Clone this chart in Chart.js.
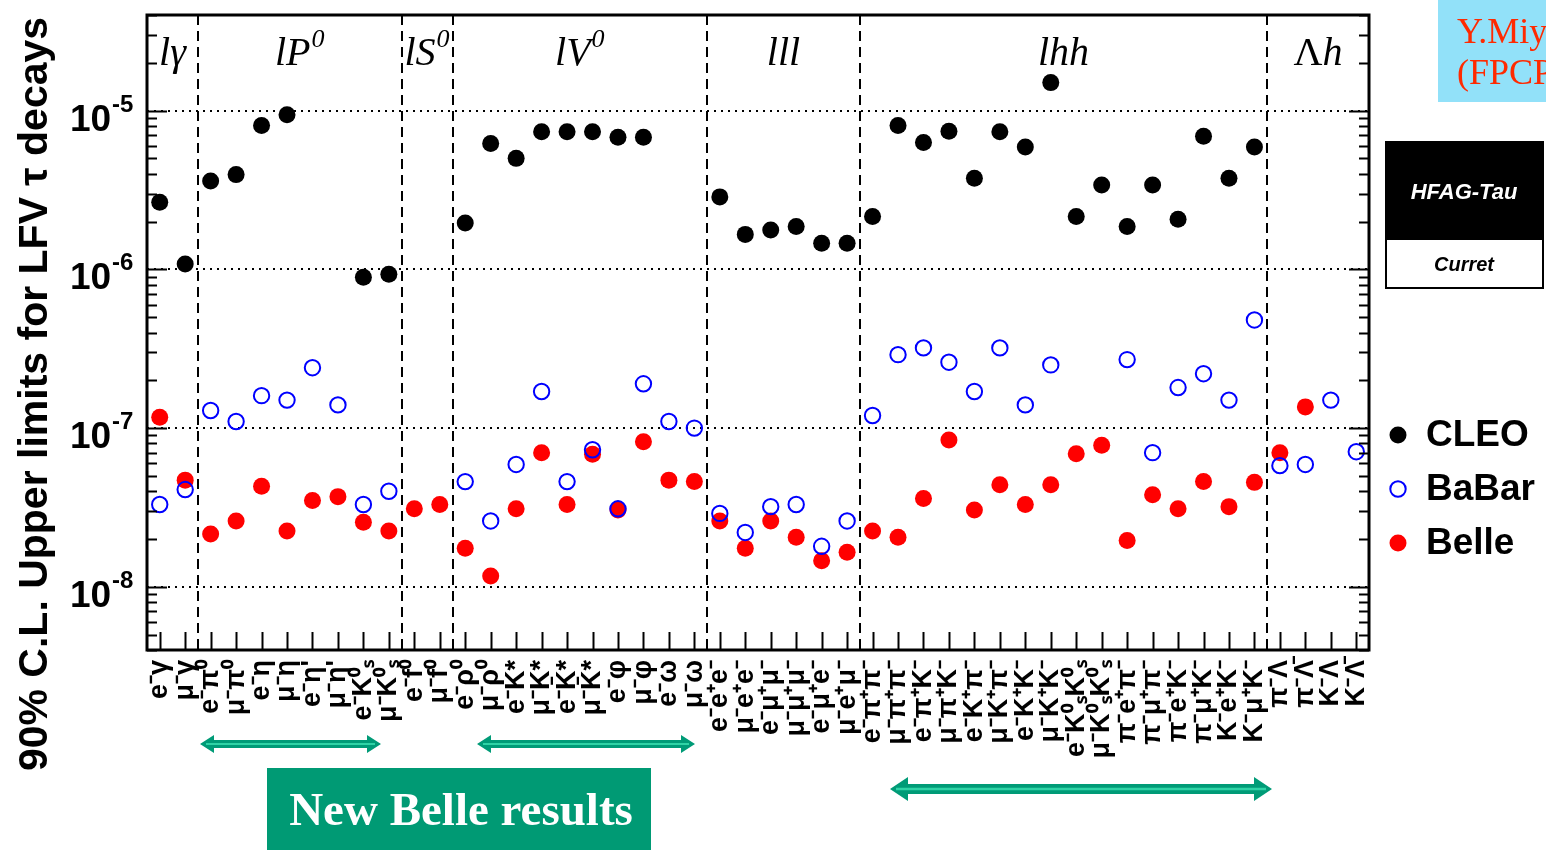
<!DOCTYPE html>
<html>
<head>
<meta charset="utf-8">
<script src="https://cdn.jsdelivr.net/npm/chart.js@4.4.1/dist/chart.umd.min.js"></script>
<style>
  html, body { margin: 0; padding: 0; background: #fff; }
</style>
</head>
<body>
<canvas id="lfv" width="1546" height="850"></canvas>
<script>
// decay modes (x categories), read bottom-to-top on the plot
const modes = [
  "e⁻γ", "μ⁻γ",
  "e⁻π⁰", "μ⁻π⁰", "e⁻η", "μ⁻η", "e⁻η'", "μ⁻η'", "e⁻K⁰ₛ", "μ⁻K⁰ₛ",
  "e⁻f⁰", "μ⁻f⁰",
  "e⁻ρ⁰", "μ⁻ρ⁰", "e⁻K*", "μ⁻K*", "e⁻K̄*", "μ⁻K̄*", "e⁻φ", "μ⁻φ", "e⁻ω", "μ⁻ω",
  "e⁻e⁺e⁻", "μ⁻e⁺e⁻", "e⁻μ⁺μ⁻", "μ⁻μ⁺μ⁻", "e⁻μ⁺e⁻", "μ⁻e⁺μ⁻",
  "e⁻π⁺π⁻", "μ⁻π⁺π⁻", "e⁻π⁺K⁻", "μ⁻π⁺K⁻", "e⁻K⁺π⁻", "μ⁻K⁺π⁻", "e⁻K⁺K⁻", "μ⁻K⁺K⁻",
  "e⁻K⁰ₛK⁰ₛ", "μ⁻K⁰ₛK⁰ₛ", "π⁻e⁺π⁻", "π⁻μ⁺π⁻", "π⁻e⁺K⁻", "π⁻μ⁺K⁻", "K⁻e⁺K⁻", "K⁻μ⁺K⁻",
  "π⁻Λ", "π⁻Λ̄", "K⁻Λ", "K⁻Λ̄"
]

const cleo = [
  2.65e-6, 1.08e-6,
  3.6e-6, 3.95e-6, 8.05e-6, 9.4e-6, null, null, 8.9e-7, 9.3e-7,
  null, null,
  1.96e-6, 6.2e-6, 5.0e-6, 7.35e-6, 7.35e-6, 7.35e-6, 6.8e-6, 6.8e-6, null, null,
  2.86e-6, 1.66e-6, 1.77e-6, 1.86e-6, 1.46e-6, 1.46e-6,
  2.15e-6, 8.05e-6, 6.3e-6, 7.4e-6, 3.75e-6, 7.35e-6, 5.9e-6, 1.5e-5,
  2.15e-6, 3.4e-6, 1.86e-6, 3.4e-6, 2.07e-6, 6.9e-6, 3.75e-6, 5.9e-6,
  null, null, null, null
]

const babar = [
  3.3e-8, 4.1e-8,
  1.29e-7, 1.1e-7, 1.6e-7, 1.5e-7, 2.4e-7, 1.4e-7, 3.3e-8, 4.0e-8,
  null, null,
  4.6e-8, 2.6e-8, 5.9e-8, 1.7e-7, 4.6e-8, 7.3e-8, 3.1e-8, 1.9e-7, 1.1e-7, 1.0e-7,
  2.9e-8, 2.2e-8, 3.2e-8, 3.3e-8, 1.8e-8, 2.6e-8,
  1.2e-7, 2.9e-7, 3.2e-7, 2.6e-7, 1.7e-7, 3.2e-7, 1.4e-7, 2.5e-7,
  null, null, 2.7e-7, 7.0e-8, 1.8e-7, 2.2e-7, 1.5e-7, 4.8e-7,
  5.8e-8, 5.9e-8, 1.5e-7, 7.1e-8
]

const belle = [
  1.17e-7, 4.7e-8,
  2.15e-8, 2.6e-8, 4.3e-8, 2.25e-8, 3.5e-8, 3.7e-8, 2.55e-8, 2.25e-8,
  3.1e-8, 3.3e-8,
  1.75e-8, 1.17e-8, 3.1e-8, 7.0e-8, 3.3e-8, 6.85e-8, 3.05e-8, 8.2e-8, 4.7e-8, 4.6e-8,
  2.6e-8, 1.75e-8, 2.6e-8, 2.05e-8, 1.46e-8, 1.65e-8,
  2.25e-8, 2.05e-8, 3.6e-8, 8.4e-8, 3.05e-8, 4.4e-8, 3.3e-8, 4.4e-8,
  6.9e-8, 7.8e-8, 1.96e-8, 3.8e-8, 3.1e-8, 4.6e-8, 3.2e-8, 4.55e-8,
  7.0e-8, 1.36e-7, null, null
]

// group headings: upright lead (Λ), italic body, superscript
const groupLeads = ["", "", "", "", "", "", "Λ"]
const groupNames = ["lγ", "lP", "lS", "lV", "lll", "lhh", "h"]
const groupSups = ["", "0", "0", "0", "", "", ""]
const groupStarts = [0, 2, 10, 12, 22, 28, 44]

const yTickValues = [1e-8, 1e-7, 1e-6, 1e-5]
const yTickExponents = ["-8", "-7", "-6", "-5"]
const yTitle = "90% C.L. Upper limits for LFV τ decays"

const SANS = "'Liberation Sans', Arial, Helvetica, sans-serif"
const SERIF = "'Liberation Serif', 'Times New Roman', serif"

function drawArrow(ctx, x1, x2, yc, t, hl, hw) {
  ctx.beginPath()
  ctx.moveTo(x1, yc)
  ctx.lineTo(x1 + hl, yc - hw)
  ctx.lineTo(x1 + hl, yc - t)
  ctx.lineTo(x2 - hl, yc - t)
  ctx.lineTo(x2 - hl, yc - hw)
  ctx.lineTo(x2, yc)
  ctx.lineTo(x2 - hl, yc + hw)
  ctx.lineTo(x2 - hl, yc + t)
  ctx.lineTo(x1 + hl, yc + t)
  ctx.lineTo(x1 + hl, yc + hw)
  ctx.closePath()
  ctx.fillStyle = "#009b77"
  ctx.fill()
  ctx.strokeStyle = "#2fd3a6"
  ctx.lineWidth = Math.max(1.5, t * 0.5)
  ctx.beginPath()
  ctx.moveTo(x1 + 6, yc)
  ctx.lineTo(x2 - 6, yc)
  ctx.stroke()
}

const decor = {
  id: "decor",
  beforeDraw(chart) {
    const ctx = chart.ctx
    ctx.save()
    ctx.fillStyle = "#fff"
    ctx.fillRect(0, 0, chart.width, chart.height)
    ctx.restore()
  },
  beforeDatasetsDraw(chart) {
    const { ctx, chartArea: a, scales: { x } } = chart
    ctx.save()
    ctx.strokeStyle = "#000"
    ctx.lineWidth = 2
    ctx.setLineDash([10, 6])
    groupStarts.slice(1).forEach(s => {
      const px = Math.round(x.getPixelForValue(s - 0.5))
      ctx.beginPath()
      ctx.moveTo(px, a.top)
      ctx.lineTo(px, a.bottom)
      ctx.stroke()
    })
    ctx.restore()
  },
  afterDraw(chart) {
    const { ctx, chartArea: a, scales: { x, y } } = chart
    ctx.save()

    // frame
    ctx.strokeStyle = "#000"
    ctx.lineWidth = 3
    ctx.strokeRect(a.left, a.top, a.right - a.left, a.bottom - a.top)

    // log ticks on left and right edges, pointing inward
    ctx.lineWidth = 2
    for (let d = -9; d <= -5; d++) {
      for (let m = 1; m <= 9; m++) {
        const v = m * Math.pow(10, d)
        if (v < y.min || v > y.max) continue
        const py = Math.round(y.getPixelForValue(v)) + 0.5
        const len = m === 1 ? 20 : 10
        ctx.beginPath()
        ctx.moveTo(a.left, py); ctx.lineTo(a.left + len, py)
        ctx.moveTo(a.right, py); ctx.lineTo(a.right - len, py)
        ctx.stroke()
      }
    }

    // category ticks on the bottom edge
    modes.forEach((_, i) => {
      const px = Math.round(x.getPixelForValue(i)) + 0.5
      ctx.beginPath()
      ctx.moveTo(px, a.bottom)
      ctx.lineTo(px, a.bottom - 18)
      ctx.stroke()
    })

    // y tick labels 10^n
    ctx.fillStyle = "#000"
    ctx.textAlign = "left"
    ctx.textBaseline = "alphabetic"
    yTickValues.forEach((v, i) => {
      const py = y.getPixelForValue(v)
      ctx.font = `bold 37px ${SANS}`
      ctx.fillText("10", 70, py + 20)
      ctx.font = `bold 24px ${SANS}`
      ctx.fillText(yTickExponents[i], 112, py + 1)
    })

    // y title
    ctx.save()
    ctx.translate(36, 394)
    ctx.rotate(-Math.PI / 2)
    ctx.textAlign = "center"
    ctx.textBaseline = "middle"
    ctx.font = `bold 41px ${SANS}`
    ctx.fillText(yTitle, 0, 0)
    ctx.restore()

    // group names
    groupNames.forEach((name, i) => {
      const s = groupStarts[i]
      const e = (i + 1 < groupStarts.length ? groupStarts[i + 1] : modes.length) - 1
      const cx = (x.getPixelForValue(s - 0.5) + x.getPixelForValue(e + 0.5)) / 2
      ctx.font = `40px ${SERIF}`
      const w0 = groupLeads[i] ? ctx.measureText(groupLeads[i]).width : 0
      ctx.font = `italic 40px ${SERIF}`
      const w1 = ctx.measureText(name).width
      ctx.font = `italic 26px ${SERIF}`
      const w2 = groupSups[i] ? ctx.measureText(groupSups[i]).width + 1 : 0
      const x0 = cx - (w0 + w1 + w2) / 2
      if (groupLeads[i]) {
        ctx.font = `40px ${SERIF}`
        ctx.fillText(groupLeads[i], x0, 65)
      }
      ctx.font = `italic 40px ${SERIF}`
      ctx.fillText(name, x0 + w0, 65)
      if (groupSups[i]) {
        ctx.font = `italic 26px ${SERIF}`
        ctx.fillText(groupSups[i], x0 + w0 + w1 + 1, 47)
      }
    })

    // legend
    const legendY = [435, 489, 543]
    chart.data.datasets.forEach((ds, i) => {
      const cy = legendY[i]
      ctx.beginPath()
      ctx.arc(1398, cy, ds.pointRadius, 0, Math.PI * 2)
      if (ds.pointBorderWidth > 0) {
        ctx.lineWidth = ds.pointBorderWidth
        ctx.strokeStyle = ds.pointBorderColor
        ctx.stroke()
      } else {
        ctx.fillStyle = ds.pointBackgroundColor
        ctx.fill()
      }
      ctx.fillStyle = "#000"
      ctx.font = `bold 37px ${SANS}`
      ctx.textBaseline = "middle"
      ctx.fillText(ds.label, 1426, cy + 1)
    })

    // HFAG box
    ctx.textBaseline = "middle"
    ctx.textAlign = "center"
    ctx.fillStyle = "#000"
    ctx.fillRect(1386, 142, 157, 98)
    ctx.fillStyle = "#fff"
    ctx.fillRect(1386, 240, 157, 48)
    ctx.strokeStyle = "#000"
    ctx.lineWidth = 2
    ctx.strokeRect(1386, 142, 157, 146)
    ctx.font = `italic bold 22px ${SANS}`
    ctx.fillText("HFAG-Tau", 1464, 193)
    ctx.fillStyle = "#000"
    ctx.font = `italic bold 20px ${SANS}`
    ctx.fillText("Curret", 1464, 265)

    // speaker tag, clipped by the page edge
    ctx.fillStyle = "#92e1f9"
    ctx.fillRect(1438, 0, 108, 102)
    ctx.fillStyle = "#ff2a00"
    ctx.textAlign = "left"
    ctx.textBaseline = "alphabetic"
    ctx.font = `36px ${SERIF}`
    ctx.fillText("Y.Miyazaki", 1457, 43)
    ctx.fillText("(FPCP2010)", 1457, 84)

    // new Belle results markers
    drawArrow(ctx, 200, 381, 744, 4, 14, 9)
    drawArrow(ctx, 477, 695, 744, 4, 14, 9)
    drawArrow(ctx, 890, 1272, 789, 5, 18, 12)
    ctx.fillStyle = "#009a74"
    ctx.fillRect(267, 768, 384, 82)
    ctx.fillStyle = "#fff"
    ctx.textAlign = "center"
    ctx.textBaseline = "middle"
    ctx.font = `bold 47px ${SERIF}`
    ctx.fillText("New Belle results", 461, 813)

    ctx.restore()
  }
}

new Chart(document.getElementById("lfv"), {
  type: "line",
  data: {
    labels: modes,
    datasets: [
      {
        label: "CLEO",
        data: cleo,
        showLine: false,
        pointRadius: 8.5,
        pointBackgroundColor: "#000000",
        pointBorderColor: "#000000",
        pointBorderWidth: 0
      },
      {
        label: "BaBar",
        data: babar,
        showLine: false,
        pointRadius: 7.7,
        pointBackgroundColor: "rgba(0,0,0,0)",
        pointBorderColor: "#0000ff",
        pointBorderWidth: 2
      },
      {
        label: "Belle",
        data: belle,
        showLine: false,
        pointRadius: 8.5,
        pointBackgroundColor: "#ff0000",
        pointBorderColor: "#ff0000",
        pointBorderWidth: 0
      }
    ]
  },
  options: {
    animation: false,
    responsive: false,
    devicePixelRatio: 1,
    layout: { padding: { left: 0, top: 15, right: 177, bottom: 0 } },
    plugins: {
      legend: { display: false },
      tooltip: { enabled: false }
    },
    scales: {
      x: {
        type: "category",
        offset: true,
        afterFit: (s) => { s.height = 200 },
        grid: { display: false, drawTicks: false },
        border: { display: false },
        ticks: {
          autoSkip: false,
          minRotation: 90,
          maxRotation: 90,
          padding: 10,
          color: "#000",
          font: { family: SANS, size: 27, weight: "bold", lineHeight: 1.1 }
        }
      },
      y: {
        type: "logarithmic",
        min: 4e-9,
        max: 4e-5,
        afterBuildTicks: (s) => { s.ticks = yTickValues.map(v => ({ value: v })) },
        afterFit: (s) => { s.width = 147 },
        ticks: { display: false },
        grid: { color: "#000", lineWidth: 2, drawTicks: false },
        border: { display: false, dash: [2, 5] }
      }
    }
  },
  plugins: [decor]
})
</script>
</body>
</html>
